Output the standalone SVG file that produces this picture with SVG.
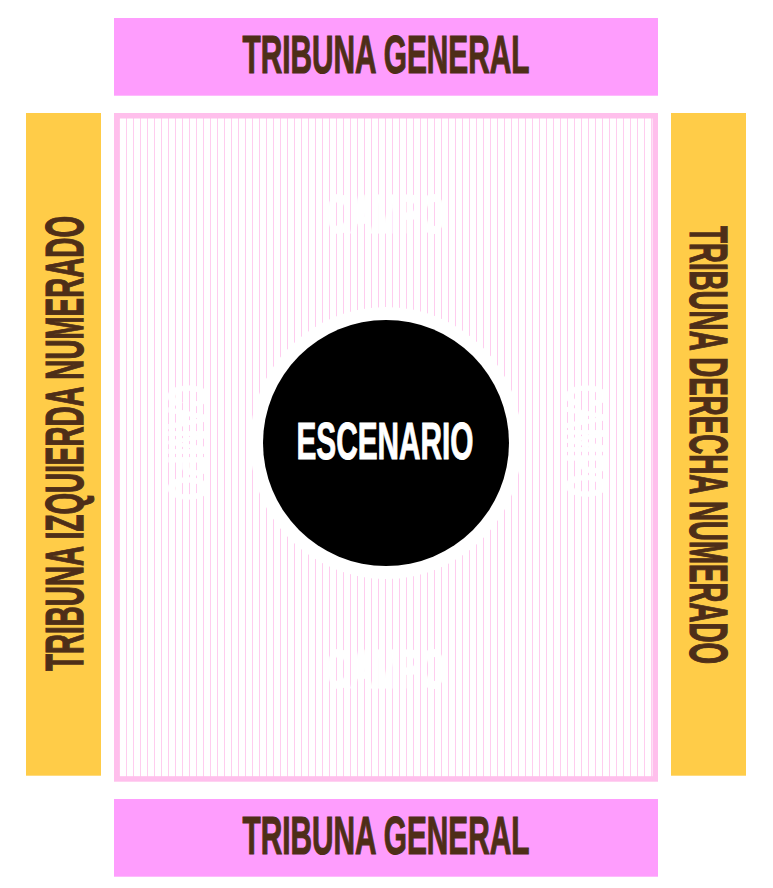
<svg xmlns="http://www.w3.org/2000/svg" width="773" height="888" viewBox="0 0 773 888">
<style>
.lbl{font-family:"Liberation Sans Narrow","Liberation Sans","DejaVu Sans Condensed",sans-serif;font-weight:bold;font-stretch:condensed}
.trib{fill:#4E2E18;stroke:#4E2E18;stroke-width:1.2px;font-size:54px}
.campo{fill:#FFFFFF;stroke:#FFFFFF;stroke-width:1.2px;font-size:56px}
.esc{fill:#FFFFFF;stroke:#FFFFFF;stroke-width:1px;font-size:52.5px}
.pinkbox{fill:#FE9DFD}
.yellowbox{fill:#FFCC48}
</style>
<defs>
<pattern id="stripes" patternUnits="userSpaceOnUse" x="120" y="0" width="7" height="20">
<rect x="0" y="0" width="7" height="20" fill="#FFFFFF"/>
<rect x="6" y="0" width="1.6" height="20" fill="#FFCDEF"/>
</pattern>
</defs>
<rect width="773" height="888" fill="#FFFFFF"/>
<g id="tribuna-general-top">
<rect class="pinkbox" x="114" y="18" width="544" height="77.7"/>
<text class="lbl trib" x="386" y="73.3" text-anchor="middle" textLength="287" lengthAdjust="spacingAndGlyphs">TRIBUNA GENERAL</text>
</g>
<g id="campo">
<rect x="116.75" y="115.75" width="538.5" height="663.2" fill="url(#stripes)" stroke="#FFBFEC" stroke-width="5.5"/>
<text class="lbl campo" x="386" y="233.3" text-anchor="middle" textLength="118" lengthAdjust="spacingAndGlyphs">CAMPO</text>
<text class="lbl campo" x="386" y="688" text-anchor="middle" textLength="118" lengthAdjust="spacingAndGlyphs">CAMPO</text>
<text class="lbl campo" transform="translate(168.5 442.5) rotate(90)" x="0" y="0" text-anchor="middle" textLength="116" lengthAdjust="spacingAndGlyphs">CAMPO</text>
<text class="lbl campo" transform="translate(567 441) rotate(90)" x="0" y="0" text-anchor="middle" textLength="113" lengthAdjust="spacingAndGlyphs">CAMPO</text>
</g>
<g id="escenario">
<circle cx="386" cy="443" r="136" fill="#FFFFFF"/>
<circle cx="386" cy="443" r="123" fill="#000000"/>
<text class="lbl esc" x="385" y="459.3" text-anchor="middle" textLength="177" lengthAdjust="spacingAndGlyphs">ESCENARIO</text>
</g>
<g id="tribuna-izquierda">
<rect class="yellowbox" x="26" y="113" width="75" height="662.7"/>
<text class="lbl trib" transform="translate(83 443.5) rotate(-90)" x="0" y="0" text-anchor="middle" textLength="455" lengthAdjust="spacingAndGlyphs">TRIBUNA IZQUIERDA NUMERADO</text>
</g>
<g id="tribuna-derecha">
<rect class="yellowbox" x="671" y="113" width="75" height="662.7"/>
<text class="lbl trib" transform="translate(690 445) rotate(90)" x="0" y="0" text-anchor="middle" textLength="438" lengthAdjust="spacingAndGlyphs">TRIBUNA DERECHA NUMERADO</text>
</g>
<g id="tribuna-general-bottom">
<rect class="pinkbox" x="114" y="799" width="544" height="77.7"/>
<text class="lbl trib" x="386" y="854.3" text-anchor="middle" textLength="287" lengthAdjust="spacingAndGlyphs">TRIBUNA GENERAL</text>
</g>
<g id="connectors"/>
</svg>
